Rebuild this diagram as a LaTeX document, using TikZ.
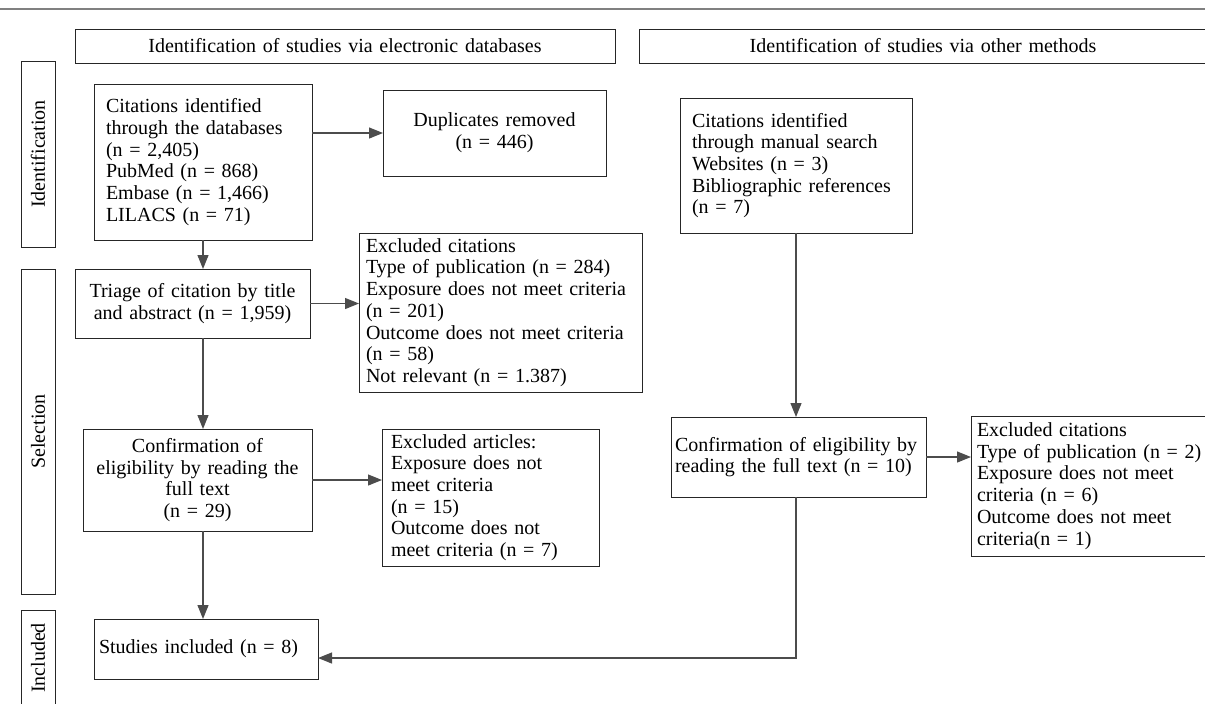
\documentclass[tikz,border=0pt]{standalone}
\usepackage{fontspec}
\setmainfont{Liberation Serif}
\usetikzlibrary{arrows.meta,positioning}

\tikzset{
  box/.style={draw=black!85, line width=0.5pt, inner ysep=0pt, outer sep=0pt,
    font=\fontsize{10}{10.85}\selectfont},
  lbox/.style={box, align=left},
  cbox/.style={box, align=center, inner xsep=2pt},
  side/.style={box, rotate=90, minimum height=17pt, inner sep=0pt},
  flow/.style={draw=black!70, line width=0.6pt, -{Triangle[length=7pt,width=5.5pt]}},
}

\begin{document}
\begin{tikzpicture}[x=0.5pt,y=-0.5pt]
    \useasboundingbox (0,0) rectangle (1205,703);
    \clip (0,0) rectangle (1205,703);
    \draw[line width=1pt, black!50] (0,9) -- (1205,9);

    % column heads and phases
    \node[cbox, minimum height=17pt, text width=266pt] (dbhead) at (345,46)
        {Identification of studies via electronic databases};
    \node[cbox, minimum height=17pt, text width=280pt] (otherhead) at (923,46)
        {Identification of studies via other methods};
    \node[side, minimum width=93pt] (identif) at (38,154) {Identification};
    \node[side, minimum width=162.5pt] (select) at (38,431.5) {Selection};
    \node[side, minimum width=48pt] (incl) at (38,658) {Included};

    % databases
    \node[lbox, minimum height=78pt, text width=97pt, inner xsep=6pt] (dbcit) at (203,162)
        {Citations identified\\ through the databases\\ (n = 2,405)\\ PubMed (n = 868)\\
         Embase (n = 1,466)\\ LILACS (n = 71)};
    \node[cbox, minimum height=43pt, text width=107.5pt] (dupl) at (494.5,133)
        {Duplicates removed\\ (n = 446)};
    \node[cbox, minimum height=34.5pt, text width=113.5pt] (triage) at (192.5,303.5)
        {Triage of citation by title\\ and abstract (n = 1,959)};
    \node[lbox, minimum height=79.5pt, text width=134.5pt, inner xsep=3.5pt] (exclcit) at (500.5,312.5)
        {Excluded citations\\ Type of publication (n = 284)\\ Exposure does not meet criteria\\
         (n = 201)\\ Outcome does not meet criteria\\ (n = 58)\\ Not relevant (n = 1.387)};
    \node[cbox, minimum height=51pt, text width=110.5pt] (confdb) at (197.5,480)
        {Confirmation of\\ eligibility by reading the\\ full text\\ (n = 29)};
    \node[lbox, minimum height=68.5pt, text width=99.5pt, inner xsep=4.5pt] (exclart) at (490.5,497.5)
        {Excluded articles:\\ Exposure does not\\ meet criteria\\ (n = 15)\\ Outcome does not\\
         meet criteria (n = 7)};
    \node[lbox, minimum height=30pt, text width=107pt, inner xsep=2.5pt] (included) at (206,649)
        {Studies included (n = 8)};

    % other methods
    \node[lbox, minimum height=67.5pt, text width=104pt, inner xsep=6pt] (manual) at (796,165.5)
        {Citations identified\\ through manual search\\ Websites (n = 3)\\ Bibliographic references\\ (n = 7)};
    \node[lbox, minimum height=40pt, text width=123.5pt, inner xsep=2pt] (confother) at (798.5,457)
        {Confirmation of eligibility by\\ reading the full text (n = 10)};
    \node[lbox, minimum height=70pt, text width=116pt, inner xsep=3pt] (exclother) at (1093,486)
        {Excluded citations\\ Type of publication (n = 2)\\ Exposure does not meet\\ criteria (n = 6)\\
         Outcome does not meet\\ criteria(n = 1)};
    \coordinate (merge) at (797,658);

    \draw[flow] (dbcit.east |- dupl.west) -- (dupl.west);
    \draw[flow] (dbcit.south) -- (dbcit.south |- triage.north);
    \draw[flow] (triage.east) -- (triage.east -| exclcit.west);
    \draw[flow] (dbcit.south |- triage.south) -- (dbcit.south |- confdb.north);
    \draw[flow] (confdb.east) -- (confdb.east -| exclart.west);
    \draw[flow] (dbcit.south |- confdb.south) -- (dbcit.south |- included.north);
    \draw[flow] (manual.south) -- (manual.south |- confother.north);
    \draw[flow] (confother.east) -- (confother.east -| exclother.west);
    \draw[flow] (manual.south |- confother.south) -- (manual.south |- merge) -- (merge -| included.east);
\end{tikzpicture}
\end{document}
